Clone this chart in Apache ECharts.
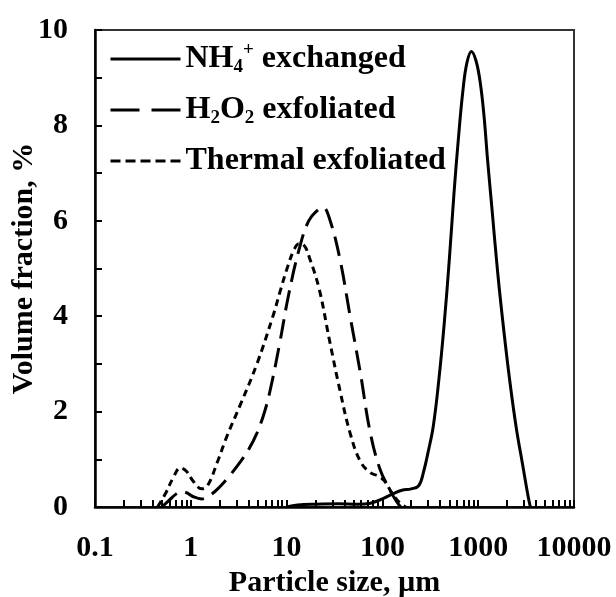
<!DOCTYPE html>
<html>
<head>
<meta charset="utf-8">
<script src="https://cdn.jsdelivr.net/npm/echarts@6/dist/echarts.min.js"></script>
<style>
  html, body { margin: 0; padding: 0; background: #fff; }
  #container { width: 616px; height: 597px; }
</style>
</head>
<body>
<div id="container"></div>
<script>
var chart = echarts.init(document.getElementById('container'));

// NH4+ exchanged (solid)
var nh4Size = [10, 13, 20, 35, 55, 75, 100, 130, 160, 200, 240, 270, 300, 340, 390, 440, 500, 560, 620, 690, 760, 850, 950, 1050, 1150, 1250, 1400, 1600, 1850, 2150, 2500, 2900, 3300, 3500];
var nh4Vol = [0, 0.04, 0.06, 0.07, 0.06, 0.08, 0.17, 0.28, 0.35, 0.38, 0.45, 0.75, 1.15, 1.7, 2.7, 3.8, 5.2, 6.6, 7.7, 8.7, 9.3, 9.55, 9.35, 8.9, 8.2, 7.3, 6.2, 4.9, 3.7, 2.6, 1.65, 0.9, 0.25, 0];

// H2O2 exfoliated (long dash)
var h2o2Size = [0.5, 0.6, 0.7, 0.8, 0.9, 1.05, 1.3, 1.6, 2.0, 2.6, 3.3, 4.0, 4.9, 6.0, 7.0, 8.5, 10.5, 13.5, 17, 21, 24, 28, 36, 46, 59, 74, 94, 120, 140, 155];
var h2o2Vol = [0, 0.15, 0.27, 0.32, 0.3, 0.22, 0.17, 0.25, 0.42, 0.68, 0.95, 1.2, 1.55, 2.05, 2.6, 3.45, 4.45, 5.4, 6.0, 6.22, 6.28, 6.05, 5.2, 4.0, 2.8, 1.6, 0.8, 0.35, 0.12, 0];

// Thermal exfoliated (short dash)
var thermalSize = [0.45, 0.55, 0.65, 0.78, 0.9, 1.05, 1.3, 1.5, 1.9, 2.4, 3.3, 4.9, 7.2, 8.5, 10.3, 12, 13.5, 15, 17.5, 22, 28, 36, 46, 59, 75, 90, 105, 125, 150, 175];
var thermalVol = [0, 0.3, 0.6, 0.82, 0.75, 0.55, 0.38, 0.45, 0.95, 1.5, 2.15, 3.0, 4.0, 4.5, 5.05, 5.4, 5.52, 5.5, 5.2, 4.55, 3.5, 2.45, 1.55, 0.95, 0.72, 0.65, 0.55, 0.3, 0.1, 0];

var seriesNames = ['NH4+ exchanged', 'H2O2 exfoliated', 'Thermal exfoliated'];
var xTickValues = [0.1, 0.2, 0.3, 0.4, 0.5, 0.6, 0.7, 0.8, 0.9,
    1, 2, 3, 4, 5, 6, 7, 8, 9,
    10, 20, 30, 40, 50, 60, 70, 80, 90,
    100, 200, 300, 400, 500, 600, 700, 800, 900,
    1000, 2000, 3000, 4000, 5000, 6000, 7000, 8000, 9000, 10000];

function pairs(xs, ys) {
    return xs.map(function (x, i) { return [x, ys[i]]; });
}

var font = "'Liberation Serif', 'Times New Roman', serif";
var baseText = { fontFamily: font, fontWeight: 'bold', fontSize: 30, color: '#000' };

var option = {
    animation: false,
    color: ['#000', '#000', '#000'],
    grid: {
        left: 95, right: 42, top: 30, bottom: 90,
        show: true, borderColor: '#333', borderWidth: 2,
        outerBoundsMode: 'none'
    },
    legend: {
        orient: 'vertical',
        left: 104,
        top: 36,
        itemWidth: 70,
        itemHeight: 14,
        itemGap: 17,
        selectedMode: false,
        itemStyle: { opacity: 0 },
        lineStyle: { width: 3, color: '#000' },
        data: [
            { name: seriesNames[0], lineStyle: { type: 'solid' } },
            { name: seriesNames[1], lineStyle: { type: [29, 12] } },
            { name: seriesNames[2], lineStyle: { type: [10, 5] } }
        ],
        formatter: function (name) {
            if (name === seriesNames[0]) return '{n|NH}{sub|4}{sup|+}{n| exchanged}';
            if (name === seriesNames[1]) return '{n|H}{sub|2}{n|O}{sub|2}{n| exfoliated}';
            return '{n|Thermal exfoliated}';
        },
        textStyle: {
            fontFamily: font, fontWeight: 'bold', color: '#000',
            rich: {
                n: { fontFamily: font, fontWeight: 'bold', fontSize: 32, lineHeight: 36, color: '#000' },
                sub: { fontFamily: font, fontWeight: 'bold', fontSize: 19, lineHeight: 18, verticalAlign: 'bottom', color: '#000' },
                sup: { fontFamily: font, fontWeight: 'bold', fontSize: 19, lineHeight: 18, verticalAlign: 'top', color: '#000' }
            }
        }
    },
    xAxis: [{
        type: 'log',
        logBase: 10,
        min: 0.1,
        max: 10000,
        name: 'Particle size, µm',
        nameLocation: 'middle',
        nameGap: 52,
        nameTextStyle: baseText,
        axisLine: { lineStyle: { color: '#000', width: 2.5 } },
        axisTick: { show: false },
        splitLine: { show: false },
        axisLabel: Object.assign({
            margin: 26,
            formatter: function (v) { return String(v); }
        }, baseText)
    }, {
        // only carries the log minor ticks, positioned in decade exponents
        type: 'value',
        min: -1,
        max: 4,
        position: 'bottom',
        axisLine: { show: false },
        axisLabel: { show: false },
        splitLine: { show: false },
        axisTick: {
            show: true,
            inside: true,
            length: 7,
            lineStyle: { color: '#000', width: 2 },
            customValues: xTickValues.map(function (v) { return Math.log10(v); })
        }
    }],
    yAxis: {
        type: 'value',
        min: 0,
        max: 10,
        interval: 2,
        name: 'Volume fraction, %',
        nameLocation: 'middle',
        nameGap: 56,
        nameMoveOverlap: false,
        nameTextStyle: baseText,
        axisLine: { show: true, onZero: false, lineStyle: { color: '#000', width: 2.5 } },
        axisTick: { show: true, inside: true, length: 7, lineStyle: { color: '#000', width: 2 } },
        minorTick: { show: true, splitNumber: 2, length: 7, lineStyle: { color: '#000', width: 2 } },
        splitLine: { show: false },
        axisLabel: Object.assign({ margin: 27 }, baseText)
    },
    series: [{
        name: seriesNames[0],
        type: 'line',
        xAxisIndex: 0,
        showSymbol: false,
        symbol: 'none',
        smooth: 0.4,
        data: pairs(nh4Size, nh4Vol),
        itemStyle: { color: '#000' },
        lineStyle: { color: '#000', width: 3, type: 'solid' }
    }, {
        name: seriesNames[1],
        type: 'line',
        xAxisIndex: 0,
        showSymbol: false,
        symbol: 'none',
        smooth: 0.4,
        data: pairs(h2o2Size, h2o2Vol),
        itemStyle: { color: '#000' },
        lineStyle: { color: '#000', width: 3, type: [20, 9] }
    }, {
        name: seriesNames[2],
        type: 'line',
        xAxisIndex: 0,
        showSymbol: false,
        symbol: 'none',
        smooth: 0.4,
        data: pairs(thermalSize, thermalVol),
        itemStyle: { color: '#000' },
        lineStyle: { color: '#000', width: 3, type: [7, 5] }
    }]
};
chart.setOption(option);

window.addEventListener('resize', function () {
    chart.resize();
});
</script>
</body>
</html>
